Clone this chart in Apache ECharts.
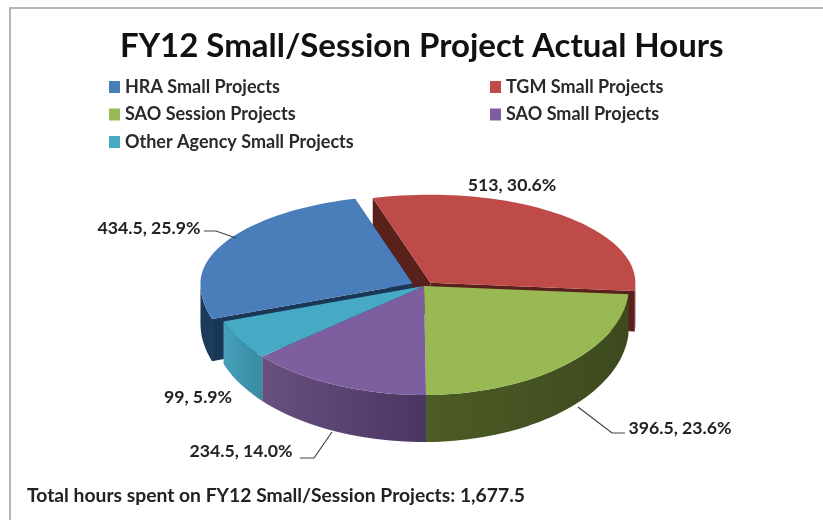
<!DOCTYPE html>
<html>
<head>
<meta charset="utf-8">
<style>
  html, body { margin: 0; padding: 0; background: #fff; }
  #chart { width: 823px; height: 520px; }
</style>
<script src="https://cdn.jsdelivr.net/npm/echarts@6/dist/echarts.min.js"></script>
</head>
<body>
<div id="chart"></div>
<script>
const categories = ['HRA Small Projects', 'TGM Small Projects', 'SAO Session Projects', 'SAO Small Projects', 'Other Agency Small Projects']
const hours = [434.5, 513, 396.5, 234.5, 99]
const explode = [13, 10, 0, 0, 0]

const topColors = ['#4a7ebb', '#be4b48', '#98b954', '#7d5fa0', '#46aac5']
const wallColors = [['#1b3a5c', '#1b3a5c'], ['#5a1f1c', '#5a1f1c'], ['#4d5c25', '#3c4a1e'], ['#68507f', '#4a3660'], ['#46a0ba', '#3a8aa3']]
const cutColors = ['#1a3856', '#5a201c', '#3c4a1e', '#4a3660', '#3a8aa3']

// label anchor and leader line for each slice, same order as categories
const labelPos = [[149, 228], [512, 185], [680, 428], [241, 451], [198, 397]]
const leaders = [
  [[204, 231], [216, 231], [236, 238]],
  null,
  [[578, 407], [612, 433], [625, 433]],
  [[300, 458], [314, 458], [332, 432]],
  null
]

const FONT = 'Lato, "Open Sans", sans-serif'
const cx = 424, cy = 286
// perspective: the rim is not a true ellipse, each side has its own radius
const rxLeft = 212, rxRight = 205
const ryBack = 88, ryFront = 109
const depthBack = 40, depthFront = 47
const startAngle = -109
const total = hours.reduce((a, b) => a + b, 0)

// slice angles in degrees, clockwise from the top of the pie
const spans = []
let acc = startAngle
hours.forEach(h => {
  const sweep = h / total * 360
  spans.push([acc, acc + sweep])
  acc += sweep
})

function pt(deg, ox, oy, lowered) {
  const t = deg * Math.PI / 180
  const s = Math.sin(t), c = Math.cos(t)
  const dz = lowered ? depthBack + (depthFront - depthBack) * Math.max(0, -c) : 0
  return [cx + ox + (s < 0 ? rxLeft : rxRight) * s, cy + oy - (c > 0 ? ryBack : ryFront) * c + dz]
}

function arc(a0, a1, ox, oy, lowered) {
  const out = []
  const n = Math.max(2, Math.ceil(Math.abs(a1 - a0) / 2))
  for (let i = 0; i <= n; i++) out.push(pt(a0 + (a1 - a0) * i / n, ox, oy, lowered))
  return out
}

function renderSlice(idx, value) {
  const [a0, a1] = spans[idx]
  const mid = (a0 + a1) / 2 * Math.PI / 180
  const ox = explode[idx] * Math.sin(mid)
  const oy = -explode[idx] * Math.cos(mid) * (Math.cos(mid) > 0 ? ryBack : ryFront) / rxRight
  const apex = [cx + ox, cy + oy]
  const children = []

  // radial cut faces, only show on pulled out slices
  if (explode[idx]) {
    ;[a0, a1].forEach(a => {
      children.push({
        type: 'polygon',
        shape: { points: [apex, pt(a, ox, oy, false), pt(a, ox, oy, true), [apex[0], apex[1] + depthBack]] },
        style: { fill: cutColors[idx] }
      })
    })
  }

  // outer wall, only the front half of the rim (90..270) is visible
  const ranges = [[a0, a1], [a0 + 360, a1 + 360], [a0 - 360, a1 - 360]]
  ranges.forEach(([s, e]) => {
    const from = Math.max(s, 90), to = Math.min(e, 270)
    if (to <= from) return
    const upper = arc(from, to, ox, oy, false)
    const lower = arc(to, from, ox, oy, true)
    children.push({
      type: 'polygon',
      shape: { points: upper.concat(lower) },
      style: {
        fill: new echarts.graphic.LinearGradient(0, 0, 1, 0, [
          { offset: 0, color: wallColors[idx][0] },
          { offset: 1, color: wallColors[idx][1] }
        ])
      }
    })
  })

  // top face
  children.push({
    type: 'polygon',
    shape: { points: [apex].concat(arc(a0, a1, ox, oy, false)) },
    style: { fill: topColors[idx] }
  })

  if (leaders[idx]) {
    children.push({
      type: 'polyline',
      z2: 20,
      shape: { points: leaders[idx] },
      style: { stroke: '#444', lineWidth: 1.2, fill: null }
    })
  }
  children.push({
    type: 'text',
    z2: 20,
    style: {
      text: value + ', ' + (value / total * 100).toFixed(1) + '%',
      x: labelPos[idx][0],
      y: labelPos[idx][1],
      align: 'center',
      verticalAlign: 'middle',
      fill: '#222',
      font: 'bold 17.7px ' + FONT
    }
  })
  return { type: 'group', children }
}

// TGM goes first so the HRA top can cover its cut face
const drawOrder = [1, 0, 2, 3, 4]
const series = drawOrder.map(idx => ({
  type: 'custom',
  name: categories[idx],
  coordinateSystem: 'none',
  silent: true,
  animation: false,
  itemStyle: { color: topColors[idx] },
  data: [hours[idx]],
  renderItem: (params, api) => renderSlice(idx, api.value(0))
}))

const legendBase = {
  orient: 'vertical',
  icon: 'rect',
  itemWidth: 11,
  itemHeight: 12,
  itemGap: 9.5,
  selectedMode: false,
  textStyle: { fontFamily: FONT, fontSize: 18, fontWeight: 'bold', color: '#2a2a2a' }
}

const chart = echarts.init(document.getElementById('chart'), null, { renderer: 'canvas' })
chart.setOption({
  backgroundColor: '#fff',
  animation: false,
  title: [
    {
      text: 'FY12 Small/Session Project Actual Hours',
      left: 115,
      top: 25,
      textStyle: { fontFamily: FONT, fontSize: 33, fontWeight: 'bold', color: '#111' }
    },
    {
      text: 'Total hours spent on FY12 Small/Session Projects: ' +
        total.toLocaleString('en-US', { minimumFractionDigits: 1 }),
      left: 27,
      top: 486,
      padding: 0,
      textStyle: { fontFamily: FONT, fontSize: 19.3, fontWeight: 'bold', color: '#222' }
    }
  ],
  legend: [
    Object.assign({}, legendBase, { left: 104, top: 73, data: [categories[0], categories[2], categories[4]] }),
    Object.assign({}, legendBase, { left: 485, top: 73, data: [categories[1], categories[3]] })
  ],
  graphic: [
    { type: 'polyline', shape: { points: [[10, 520], [10, 8], [823, 8]] }, style: { stroke: '#b5b5b5', lineWidth: 2, fill: null } }
  ],
  series
})
</script>
</body>
</html>
